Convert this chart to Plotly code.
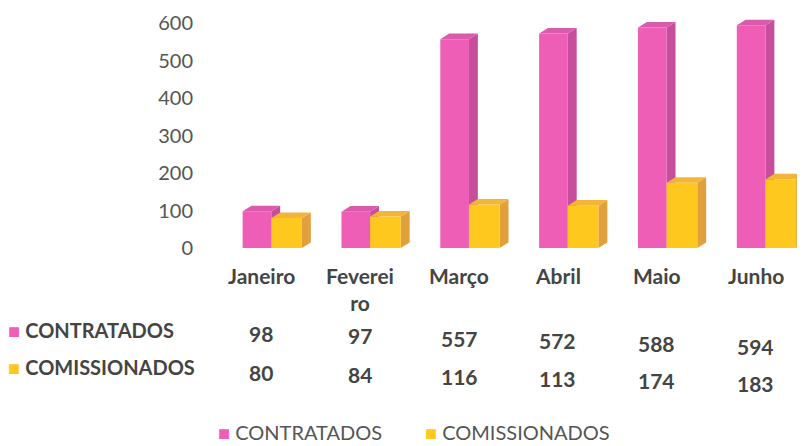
import plotly.graph_objects as go

months = ["Janeiro", "Feverei<br>ro", "Março", "Abril", "Maio", "Junho"]
contratados = [98, 97, 557, 572, 588, 594]
comissionados = [80, 84, 116, 113, 174, 183]
y_ticks = [0, 100, 200, 300, 400, 500, 600]
series_names = ["CONTRATADOS", "COMISSIONADOS"]

PINK = "#EE5DB6"; PINK_SIDE = "#C64E9A"; PINK_TOP = "#DA5BAB"
YEL = "#FFC81E"; YEL_SIDE = "#E2A03C"; YEL_TOP = "#F3B43A"
FONT = "Lato"
GREY = "#555555"; DARK = "#444444"

xs = list(range(len(months)))
P_OFF, P_W = -0.19, 0.29
Y_OFF, Y_W = 0.10, 0.31
DX, DY = 0.09, 15

fig = go.Figure()
fig.add_trace(go.Bar(x=xs, y=contratados, name=series_names[0], marker_color=PINK,
                     offset=P_OFF, width=P_W, marker_line_width=0))
fig.add_trace(go.Bar(x=xs, y=comissionados, name=series_names[1], marker_color=YEL,
                     offset=Y_OFF, width=Y_W, marker_line_width=0))

shapes = []
def faces(x0, x1, v, side, top):
    shapes.append(dict(type="path", xref="x", yref="y", layer="below", line_width=0, fillcolor=side,
                       path=f"M{x1},0 L{x1},{v} L{x1+DX},{v+DY} L{x1+DX},{DY} Z"))
    shapes.append(dict(type="path", xref="x", yref="y", layer="below", line_width=0, fillcolor=top,
                       path=f"M{x0},{v} L{x1},{v} L{x1+DX},{v+DY} L{x0+DX},{v+DY} Z"))
for i in xs:
    faces(i + P_OFF, i + P_OFF + P_W, contratados[i], PINK_SIDE, PINK_TOP)
for i in xs:
    faces(i + Y_OFF, i + Y_OFF + Y_W, comissionados[i], YEL_SIDE, YEL_TOP)

BF = dict(family=FONT, size=20, color=DARK)
VF = dict(family=FONT, size=21, color=DARK)
ann = []
for i, m in enumerate(months):
    ann.append(dict(x=i, y=0, xref="x", yref="paper", text=f"<b>{m}</b>", showarrow=False,
                    yanchor="top", yshift=-13, font=VF))
    ann.append(dict(x=i, y=0, xref="x", yref="paper", text=f"<b>{contratados[i]}</b>", showarrow=False,
                    yanchor="middle", yshift=-85 - i * 2.6, font=VF))
    ann.append(dict(x=i, y=0, xref="x", yref="paper", text=f"<b>{comissionados[i]}</b>", showarrow=False,
                    yanchor="middle", yshift=-124 - i * 2.2, font=VF))
for label, col, ys in [(series_names[0], PINK, -82), (series_names[1], YEL, -119)]:
    ann.append(dict(x=0, y=0, xref="paper", yref="paper",
                    text=f"<span style='color:{col}'>■</span> <b>{label}</b>",
                    showarrow=False, xanchor="left", yanchor="middle", xshift=-206, yshift=ys, font=BF))
# legend row
for label, col, xs_ in [(series_names[0], PINK, 4), (series_names[1], YEL, 211)]:
    ann.append(dict(x=0, y=0, xref="paper", yref="paper",
                    text=f"<span style='color:{col}'>■</span> {label}",
                    showarrow=False, xanchor="left", yanchor="middle", xshift=xs_, yshift=-184,
                    font=dict(family=FONT, size=20, color=GREY)))

# page body has an 8px default margin; size the figure to fit the 805x446 window
fig.update_layout(
    width=797, height=438,
    margin=dict(l=204, r=0, t=0, b=198, autoexpand=False),
    paper_bgcolor="white", plot_bgcolor="white",
    barmode="overlay",
    shapes=shapes, annotations=ann,
    xaxis=dict(range=[-0.5, 5.5], showticklabels=False, showgrid=False, zeroline=False, showline=False),
    yaxis=dict(range=[0, 640], tickvals=y_ticks, showgrid=False, zeroline=False, showline=False,
               ticks="outside", ticklen=14, tickcolor="rgba(0,0,0,0)",
               tickfont=dict(family=FONT, size=20, color=GREY)),
    showlegend=False,
)

fig.write_html("out.html")
